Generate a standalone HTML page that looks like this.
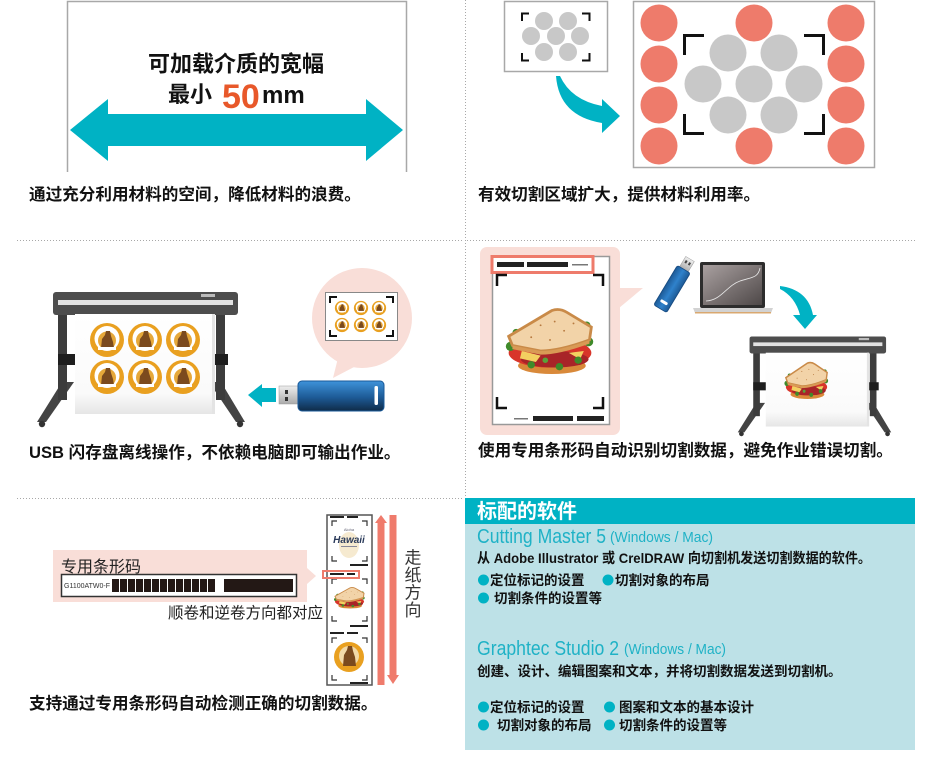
<!DOCTYPE html>
<html><head><meta charset="utf-8"><style>
html,body{margin:0;padding:0;background:#fff;}
svg{display:block;}
text{font-family:"Liberation Sans","Noto Sans CJK SC",sans-serif;}
</style></head><body>
<svg width="937" height="767" viewBox="0 0 937 767" xmlns="http://www.w3.org/2000/svg">
<defs>
<linearGradient id="usbG" x1="0" y1="0" x2="0" y2="1"><stop offset="0" stop-color="#3e93da"/><stop offset="0.55" stop-color="#1d5a96"/><stop offset="1" stop-color="#0f2b48"/></linearGradient>
<linearGradient id="usbG2" x1="0" y1="0" x2="1" y2="0"><stop offset="0" stop-color="#1d5a96"/><stop offset="0.5" stop-color="#2f82cc"/><stop offset="1" stop-color="#1d5a96"/></linearGradient>
<linearGradient id="metal" x1="0" y1="0" x2="0" y2="1"><stop offset="0" stop-color="#eee"/><stop offset="1" stop-color="#aaa"/></linearGradient>
<linearGradient id="scr" x1="0" y1="0" x2="1" y2="1"><stop offset="0" stop-color="#a9a0a0"/><stop offset="1" stop-color="#4e4848"/></linearGradient>
<linearGradient id="paperG" x1="0" y1="0" x2="0" y2="1"><stop offset="0" stop-color="#fff"/><stop offset="0.8" stop-color="#fafafa"/><stop offset="1" stop-color="#e6e6e6"/></linearGradient>
<g id="sticker">
<circle r="17" fill="#e9a020"/>
<circle cx="0" cy="-1.5" r="12.5" fill="#fff"/>
<circle cx="0" cy="0.5" r="9" fill="#e6a83a"/>
<path d="M-6,8 L-5,-1 L-2,-5 L-1,-9 L3,-9 L4,-4 L6,2 L7,8 Z" fill="#7b4a1e"/>
<rect x="-9" y="7" width="18" height="3" fill="#fff"/>
</g>
<g id="sandwich">
<ellipse cx="52" cy="66" rx="36" ry="9" fill="#d9893a"/>
<ellipse cx="50" cy="52" rx="44" ry="16" fill="#d8352a"/>
<ellipse cx="55" cy="59" rx="36" ry="9" fill="#a82428"/>
<polygon points="20,50 40,55 35,62 18,58" fill="#f3d060"/>
<polygon points="70,52 86,50 82,59" fill="#f3d060"/>
<circle cx="8" cy="45" r="5" fill="#3f8a2a"/><circle cx="91" cy="40" r="5" fill="#3f8a2a"/>
<circle cx="30" cy="65" r="4" fill="#3f8a2a"/><circle cx="60" cy="67" r="4" fill="#3f8a2a"/>
<circle cx="80" cy="60" r="4" fill="#3f8a2a"/><circle cx="14" cy="30" r="4" fill="#3f8a2a"/>
<circle cx="89" cy="22" r="4" fill="#3f8a2a"/><circle cx="45" cy="60" r="3" fill="#5aa03a"/>
<path d="M6,34 L52,6 Q60,3 68,8 L94,24 L92,38 Q60,50 40,50 L10,44 Z" fill="#f2d3a8" stroke="#c98a48" stroke-width="3"/>
<path d="M10,44 L40,50 Q60,50 92,38 L92,42 Q60,54 40,54 L10,48 Z" fill="#d99a55"/>
<circle cx="40" cy="22" r="1" fill="#b77a40"/><circle cx="55" cy="18" r="1" fill="#b77a40"/><circle cx="65" cy="28" r="1" fill="#b77a40"/><circle cx="30" cy="35" r="1" fill="#b77a40"/><circle cx="75" cy="20" r="1" fill="#b77a40"/><circle cx="50" cy="38" r="1" fill="#b77a40"/>
</g>
<g id="printer">
<polygon points="26,92 38,92 10,132 1,132" fill="#444"/>
<polygon points="173,92 185,92 209,132 200,132" fill="#444"/>
<circle cx="6" cy="134" r="3.2" fill="#333"/><circle cx="204" cy="134" r="3.2" fill="#333"/>
<rect x="22" y="20" width="9" height="90" fill="#3c3c3c"/>
<rect x="180" y="20" width="9" height="90" fill="#3c3c3c"/>
<rect x="22" y="64" width="20" height="11" fill="#1e1e1e"/>
<rect x="172" y="64" width="20" height="11" fill="#1e1e1e"/>
<rect x="17" y="2" width="185" height="23" rx="3" fill="#4d4d4d"/>
<rect x="22" y="10" width="175" height="5" fill="#e2e2e2"/>
<rect x="165" y="4" width="14" height="3" fill="#bbb"/>
<rect x="39" y="24" width="140" height="100" fill="url(#paperG)"/>
<rect x="176" y="24" width="3" height="100" fill="#e4e4e4"/>
</g>
</defs>

<!-- separators -->
<g stroke="#a8a8a8" stroke-width="1" stroke-dasharray="1,2" fill="none">
<line x1="17" y1="240.5" x2="463" y2="240.5"/>
<line x1="467" y1="240.5" x2="915" y2="240.5"/>
<line x1="465.5" y1="0" x2="465.5" y2="498"/>
<line x1="17" y1="498.5" x2="463" y2="498.5"/>
</g>

<!-- TOP LEFT -->
<path d="M67.5,172 V1.5 H406.5 V172" fill="none" stroke="#a8a8a8" stroke-width="1.5"/>
<polygon points="70,130 108,99 108,114 366,114 366,99 403,130 366,161 366,146 108,146 108,161" fill="#00b2c4"/>
<text x="236" y="71.5" font-size="22" font-weight="bold" text-anchor="middle" fill="#111">可加载介质的宽幅</text>
<text x="168" y="102" font-size="22" font-weight="bold" fill="#111">最小</text>
<text x="222" y="108" font-size="34" font-weight="bold" fill="#e8582a">50</text>
<text x="262" y="103" font-size="24" font-weight="bold" fill="#111">mm</text>
<text x="29" y="200" font-size="16.6" font-weight="bold" fill="#111">通过充分利用材料的空间，降低材料的浪费。</text>

<!-- TOP RIGHT -->
<rect x="504.5" y="1.5" width="103" height="70" fill="#fff" stroke="#a8a8a8" stroke-width="1.5"/>
<g fill="#c8c8c8">
<circle cx="544" cy="21" r="9"/><circle cx="568" cy="21" r="9"/>
<circle cx="531" cy="36" r="9"/><circle cx="556" cy="36" r="9"/><circle cx="580" cy="36" r="9"/>
<circle cx="544" cy="52" r="9"/><circle cx="568" cy="52" r="9"/>
</g>
<g stroke="#111" stroke-width="2" fill="none">
<path d="M522,21 V13.5 H529"/><path d="M582,13.5 H589.5 V21"/>
<path d="M522,53 V60.5 H529"/><path d="M582,60.5 H589.5 V53"/>
</g>
<path d="M556,76 Q559,116 602,123 L602,133 L620,116 L602,99 L602,106 Q571,100 560,76 Z" fill="#00b2c4"/>
<rect x="633.5" y="1.5" width="241" height="166" fill="#fff" stroke="#a8a8a8" stroke-width="1.5"/>
<g fill="#ee7b6b">
<circle cx="659" cy="23" r="18.5"/><circle cx="659" cy="64" r="18.5"/><circle cx="659" cy="105" r="18.5"/><circle cx="659" cy="146" r="18.5"/>
<circle cx="754" cy="23" r="18.5"/><circle cx="754" cy="146" r="18.5"/>
<circle cx="846" cy="23" r="18.5"/><circle cx="846" cy="64" r="18.5"/><circle cx="846" cy="105" r="18.5"/><circle cx="846" cy="146" r="18.5"/>
</g>
<g fill="#c8c8c8">
<circle cx="728" cy="53" r="18.5"/><circle cx="779" cy="53" r="18.5"/>
<circle cx="703" cy="84" r="18.5"/><circle cx="754" cy="84" r="18.5"/><circle cx="804" cy="84" r="18.5"/>
<circle cx="728" cy="115" r="18.5"/><circle cx="779" cy="115" r="18.5"/>
</g>
<g stroke="#111" stroke-width="3" fill="none">
<path d="M684.5,55 V35.5 H704"/><path d="M804,35.5 H823.5 V55"/>
<path d="M684.5,114 V133.5 H704"/><path d="M804,133.5 H823.5 V114"/>
</g>
<text x="478" y="200" font-size="16.6" font-weight="bold" fill="#111">有效切割区域扩大，提供材料利用率。</text>

<!-- MIDDLE LEFT -->
<use href="#printer" transform="translate(36,290)"/>
<use href="#sticker" transform="translate(107,340)"/>
<use href="#sticker" transform="translate(145,340)"/>
<use href="#sticker" transform="translate(183,340)"/>
<use href="#sticker" transform="translate(107,377)"/>
<use href="#sticker" transform="translate(145,377)"/>
<use href="#sticker" transform="translate(183,377)"/>
<circle cx="362" cy="318" r="50" fill="#f9ded8"/>
<polygon points="338,358 333,378 356,366" fill="#f9ded8"/>
<rect x="325.5" y="292.5" width="72" height="48" fill="#fff" stroke="#888" stroke-width="1"/>
<g stroke="#111" stroke-width="2" fill="none">
<path d="M330,303 V297 H337"/><path d="M386,297 H393 V303"/>
<path d="M330,330 V336 H337"/><path d="M386,336 H393 V330"/>
</g>
<use href="#sticker" transform="translate(342,308) scale(0.42)"/>
<use href="#sticker" transform="translate(361,308) scale(0.42)"/>
<use href="#sticker" transform="translate(379,308) scale(0.42)"/>
<use href="#sticker" transform="translate(342,325) scale(0.42)"/>
<use href="#sticker" transform="translate(361,325) scale(0.42)"/>
<use href="#sticker" transform="translate(379,325) scale(0.42)"/>
<polygon points="248,395 262,384 262,388 276,388 276,402 262,402 262,407" fill="#00b2c4"/>
<rect x="279" y="386" width="20" height="18" fill="url(#metal)" stroke="#999" stroke-width="0.5"/>
<rect x="285" y="390" width="3" height="4" fill="#333"/><rect x="285" y="397" width="3" height="4" fill="#333"/>
<rect x="298" y="381" width="86" height="30" rx="4" fill="url(#usbG)" stroke="#1a5a9a" stroke-width="1"/>
<rect x="374.5" y="386" width="3.5" height="19" rx="1.5" fill="#fff"/>
<text x="29" y="458" font-size="16.6" font-weight="bold" fill="#111">USB 闪存盘离线操作，不依赖电脑即可输出作业。</text>

<!-- MIDDLE RIGHT -->
<rect x="480" y="247" width="140" height="188" rx="7" fill="#f9ded8"/>
<polygon points="619,288 643,288 619,308" fill="#f9ded8"/>
<rect x="492.5" y="256.5" width="117" height="168" fill="#fff" stroke="#999" stroke-width="1.5"/>
<rect x="492" y="256.5" width="101" height="16" fill="#fff" stroke="#ee7b6b" stroke-width="3"/>
<rect x="497" y="262" width="27" height="5" fill="#222"/>
<rect x="527" y="262" width="41" height="5" fill="#222"/>
<rect x="572" y="264" width="16" height="1.5" fill="#777"/>
<g stroke="#111" stroke-width="2.5" fill="none">
<path d="M497,286 V275 H507"/><path d="M593,275 H603 V286"/>
<path d="M497,397 V408 H507"/><path d="M593,408 H603 V397"/>
</g>
<rect x="533" y="416" width="40" height="5" fill="#222"/>
<rect x="577" y="416" width="27" height="5" fill="#222"/>
<rect x="514" y="418" width="14" height="1.5" fill="#777"/>
<use href="#sandwich" transform="translate(503,305) scale(0.94,0.92)"/>
<g transform="translate(672,289) rotate(31)">
<rect x="-5" y="-35" width="10" height="13" fill="url(#metal)" stroke="#999" stroke-width="0.5"/>
<rect x="-3" y="-32" width="2" height="3" fill="#444"/><rect x="1" y="-32" width="2" height="3" fill="#444"/>
<rect x="-7.5" y="-23" width="15" height="46" rx="2" fill="url(#usbG2)" stroke="#174a80" stroke-width="0.8"/>
<rect x="-4" y="14" width="8" height="3" rx="1.5" fill="#fff"/>
</g>
<rect x="700" y="262" width="65" height="46" rx="2" fill="#2d2d2d"/>
<rect x="703" y="265" width="59" height="40" fill="url(#scr)"/>
<path d="M706,301 C722,300 726,286 740,281 C752,277 758,278 760,268" stroke="#e8e8e8" stroke-width="0.8" fill="none"/>
<path d="M693,308 L773,308 L771,313 L695,313 Z" fill="#d2d2d2"/>
<rect x="695" y="312" width="76" height="1.5" fill="#d9a870"/>
<path d="M780,286 C798,288 810,298 813,315 L817,315 L805,329 L793,315 L800,315 C797,303 790,294 780,289 Z" fill="#00b2c4"/>
<use href="#printer" transform="translate(737,335) scale(0.738)"/>
<use href="#sandwich" transform="translate(783,360) scale(0.47,0.52)"/>
<text x="478" y="456" font-size="16.6" font-weight="bold" fill="#111">使用专用条形码自动识别切割数据，避免作业错误切割。</text>

<!-- BOTTOM LEFT -->
<rect x="53" y="550" width="254" height="52" fill="#f9ded8"/>
<polygon points="307,568 316,576 307,584" fill="#f9ded8"/>
<text x="61" y="572" font-size="16" fill="#222">专用条形码</text>
<rect x="61.5" y="574.5" width="235" height="22" fill="#fff" stroke="#333" stroke-width="1.5"/>
<text x="64" y="588" font-size="7" fill="#333">G1100ATW0-F</text>
<g fill="#231815">
<rect x="112" y="579" width="7" height="13"/><rect x="120" y="579" width="7" height="13"/><rect x="128" y="579" width="7" height="13"/>
<rect x="136" y="579" width="7" height="13"/><rect x="144" y="579" width="7" height="13"/><rect x="152" y="579" width="7" height="13"/>
<rect x="160" y="579" width="7" height="13"/><rect x="168" y="579" width="7" height="13"/><rect x="176" y="579" width="7" height="13"/>
<rect x="184" y="579" width="7" height="13"/><rect x="192" y="579" width="7" height="13"/><rect x="200" y="579" width="7" height="13"/>
<rect x="208" y="579" width="7" height="13"/>
<rect x="224" y="579" width="69" height="13"/>
</g>
<text x="168" y="618" font-size="15.5" fill="#222">顺卷和逆卷方向都对应</text>
<!-- strip -->
<rect x="327" y="515" width="45" height="170" fill="#fff" stroke="#555" stroke-width="1.5"/>
<g fill="#222">
<rect x="330" y="516" width="14" height="2"/><rect x="347" y="516" width="11" height="2"/>
<rect x="350" y="564" width="18" height="2"/>
<rect x="330" y="573" width="14" height="2"/><rect x="347" y="573" width="8" height="2"/>
<rect x="350" y="625" width="18" height="2"/>
<rect x="330" y="632" width="14" height="2"/><rect x="347" y="632" width="11" height="2"/>
<rect x="350" y="682" width="18" height="2"/>
</g>
<g stroke="#333" stroke-width="1.2" fill="none">
<path d="M332,526 V521 H337"/><path d="M362,521 H367 V526"/><path d="M332,556 V561 H337"/><path d="M362,561 H367 V556"/>
<path d="M332,584 V579 H337"/><path d="M362,579 H367 V584"/><path d="M332,616 V621 H337"/><path d="M362,621 H367 V616"/>
<path d="M332,643 V638 H337"/><path d="M362,638 H367 V643"/><path d="M332,675 V680 H337"/><path d="M362,680 H367 V675"/>
</g>
<ellipse cx="349" cy="545" rx="10" ry="13" fill="#f6ead0"/>
<text x="349" y="531" font-size="4" text-anchor="middle" fill="#667">Aloha</text>
<text x="349" y="543" font-size="10" font-style="italic" font-weight="bold" text-anchor="middle" fill="#2a3a5a" font-family="Liberation Serif, serif">Hawaii</text>
<rect x="341" y="546" width="16" height="1" fill="#889"/>
<use href="#sandwich" transform="translate(333,586) scale(0.33,0.3)"/>
<circle cx="349" cy="657" r="15" fill="#e9a020"/>
<circle cx="349" cy="656" r="10" fill="#f2d9a8"/>
<path d="M343,666 L344,655 L347,650 L348,646 L352,646 L353,651 L355,657 L356,666 Z" fill="#7b4a1e"/>
<rect x="323" y="571" width="36" height="7" fill="none" stroke="#ee7b6b" stroke-width="2"/>
<polygon points="381,515 387,523 384.5,523 384.5,685 377.5,685 377.5,523 375,523" fill="#ef7b6c"/>
<polygon points="393,684 399,675 396.5,675 396.5,515 389.5,515 389.5,675 387,675" fill="#ef7b6c"/>
<g font-size="17" fill="#333" text-anchor="middle">
<text x="413" y="563.5">走</text><text x="413" y="581">纸</text><text x="413" y="598.5">方</text><text x="413" y="616">向</text>
</g>
<text x="29" y="709" font-size="16.6" font-weight="bold" fill="#111">支持通过专用条形码自动检测正确的切割数据。</text>

<!-- BOTTOM RIGHT -->
<rect x="465" y="498" width="450" height="26" fill="#00b2c4"/>
<rect x="465" y="524" width="450" height="226" fill="#bde1e7"/>
<text x="477" y="518" font-size="20" font-weight="bold" fill="#fff">标配的软件</text>
<text x="477" y="543" font-size="20" fill="#1fb2c6" textLength="129" lengthAdjust="spacingAndGlyphs">Cutting Master 5</text>
<text x="610" y="542" font-size="15" fill="#1fb2c6" textLength="103" lengthAdjust="spacingAndGlyphs">(Windows / Mac)</text>
<text x="477" y="563" font-size="14" font-weight="bold" fill="#111" textLength="394" lengthAdjust="spacingAndGlyphs">从 Adobe Illustrator 或 CrelDRAW 向切割机发送切割数据的软件。</text>
<g fill="#00b2c4">
<circle cx="483.5" cy="580" r="5.5"/><circle cx="608" cy="580" r="5.5"/>
<circle cx="483.5" cy="598" r="5.5"/>
<circle cx="483.5" cy="707" r="5.5"/><circle cx="609.5" cy="707" r="5.5"/>
<circle cx="483.5" cy="725" r="5.5"/><circle cx="609.5" cy="725" r="5.5"/>
</g>
<g font-size="13.5" font-weight="bold" fill="#111">
<text x="490" y="585">定位标记的设置</text>
<text x="615" y="585">切割对象的布局</text>
<text x="494" y="603">切割条件的设置等</text>
<text x="490" y="712">定位标记的设置</text>
<text x="619" y="712">图案和文本的基本设计</text>
<text x="497" y="730">切割对象的布局</text>
<text x="619" y="730">切割条件的设置等</text>
</g>
<text x="477" y="655" font-size="20" fill="#1fb2c6" textLength="142" lengthAdjust="spacingAndGlyphs">Graphtec Studio 2</text>
<text x="624" y="654" font-size="15" fill="#1fb2c6" textLength="102" lengthAdjust="spacingAndGlyphs">(Windows / Mac)</text>
<text x="477" y="676" font-size="13.5" font-weight="bold" fill="#111">创建、设计、编辑图案和文本，并将切割数据发送到切割机。</text>
</svg>
</body></html>
